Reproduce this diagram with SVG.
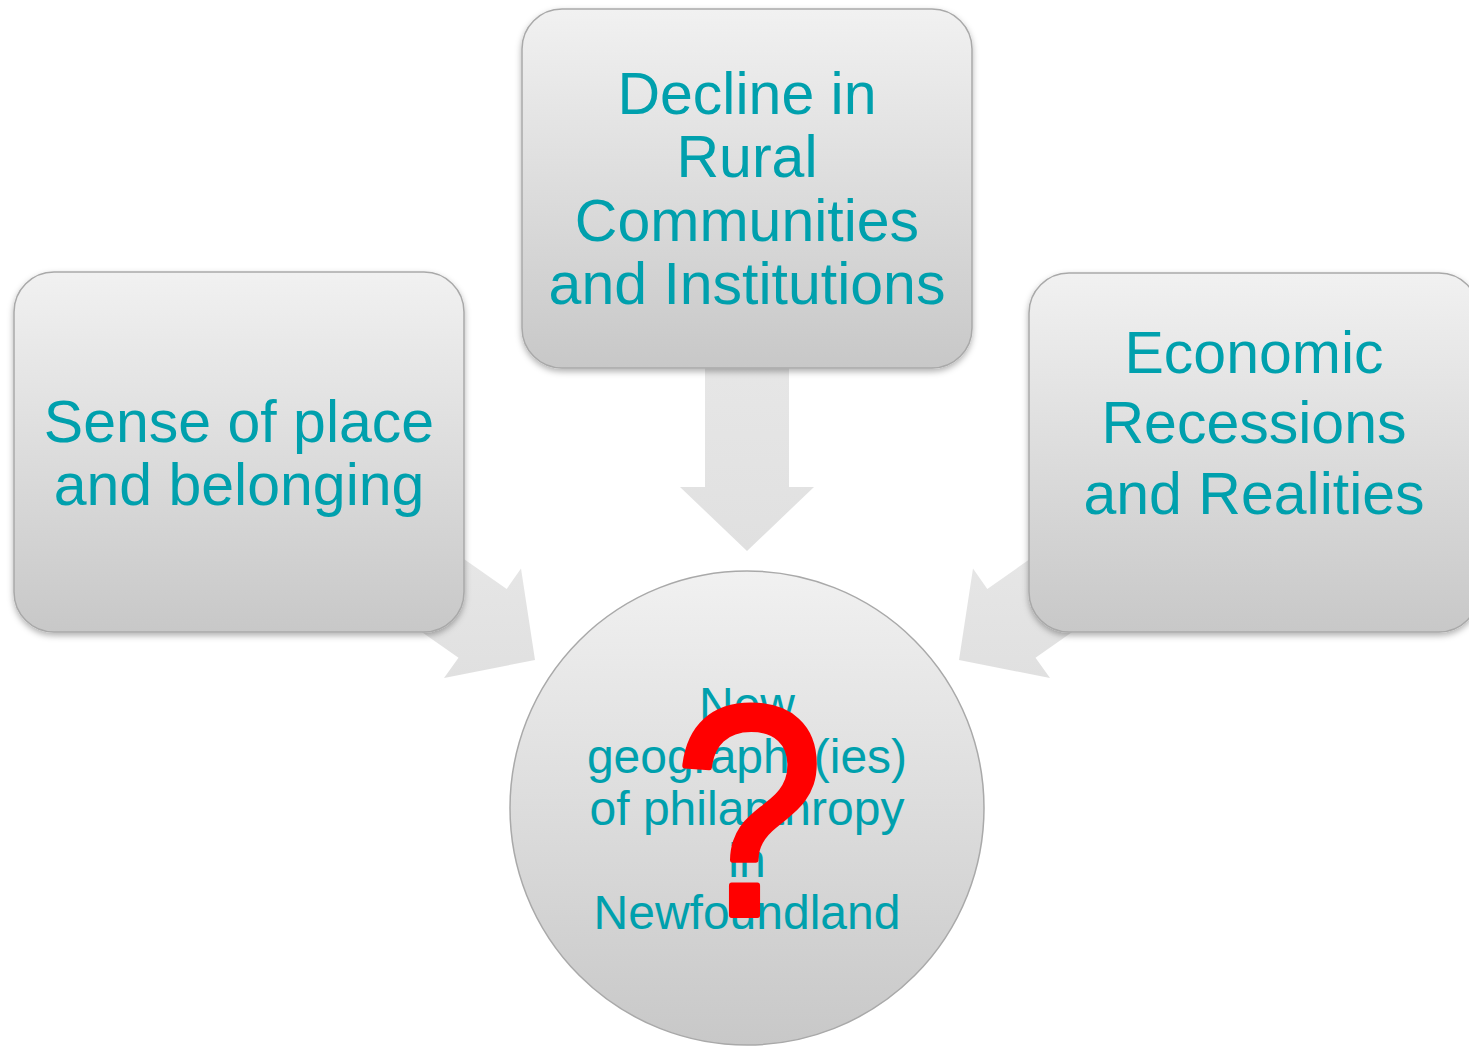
<svg xmlns="http://www.w3.org/2000/svg" width="1469" height="1046" viewBox="0 0 1469 1046">
<defs>
<linearGradient id="boxg" x1="0" y1="0" x2="0" y2="1">
<stop offset="0" stop-color="#f1f1f1"/>
<stop offset="1" stop-color="#c8c8c8"/>
</linearGradient>
<linearGradient id="arrg" x1="0" y1="0" x2="0" y2="1">
<stop offset="0" stop-color="#ececec"/>
<stop offset="1" stop-color="#e0e0e0"/>
</linearGradient>
<filter id="sh" x="-10%" y="-10%" width="120%" height="125%">
<feDropShadow dx="0" dy="3" stdDeviation="3" flood-color="#000" flood-opacity="0.3"/>
</filter>
<style>
.box{fill:url(#boxg);stroke:#a9a9a9;stroke-width:1.5;filter:url(#sh)}
.arr{fill:url(#arrg);stroke:none}
.t{font-family:"Liberation Sans",Arial,sans-serif;fill:#00a0ad;text-anchor:middle}
.big{font-size:59px}
.small{font-size:48px}
.q{font-family:"Liberation Sans",Arial,sans-serif;font-size:300px;fill:#ff0000;stroke:#ff0000;stroke-width:6;stroke-linejoin:round;text-anchor:middle}
</style>
</defs>
<rect width="1469" height="1046" fill="#ffffff"/>
<g id="connectors">
<polygon class="arr" points="705,200 789,200 789,487 814,487 747,551 680,487 705,487"/>
<polygon class="arr" points="301.9,445.4 506.7,588.9 521,568.4 535,660 444,678 458.5,657.7 253.7,514.2"/>
<polygon class="arr" points="1192.1,445.4 987.3,588.9 973,568.4 959,660 1050,678 1035.5,657.7 1240.3,514.2"/>
</g>
<g id="node-decline">
<rect class="box" x="522" y="9" width="450" height="359" rx="40" ry="40"/>
<text class="t big" x="747" y="114">Decline in</text>
<text class="t big" x="747" y="177">Rural</text>
<text class="t big" x="747" y="241">Communities</text>
<text class="t big" x="747" y="304">and Institutions</text>
</g>
<g id="node-sense">
<rect class="box" x="14" y="272" width="450" height="360" rx="40" ry="40"/>
<text class="t big" x="239" y="442">Sense of place</text>
<text class="t big" x="239" y="505">and belonging</text>
</g>
<g id="node-economic">
<rect class="box" x="1029" y="273" width="450" height="359" rx="40" ry="40"/>
<text class="t big" x="1254" y="373">Economic</text>
<text class="t big" x="1254" y="443">Recessions</text>
<text class="t big" x="1254" y="514">and Realities</text>
</g>
<g id="node-center">
<circle cx="747" cy="808" r="237" fill="url(#boxg)" stroke="#a9a9a9" stroke-width="1.5"/>
<text class="t small" x="747" y="721">New</text>
<text class="t small" x="747" y="773">geography(ies)</text>
<text class="t small" x="747" y="825">of philanthropy</text>
<text class="t small" x="747" y="877">in</text>
<text class="t small" x="747" y="929">Newfoundland</text>
<text class="q" transform="translate(749,915) scale(0.9,1)" x="0" y="0">?</text>
</g>
</svg>
